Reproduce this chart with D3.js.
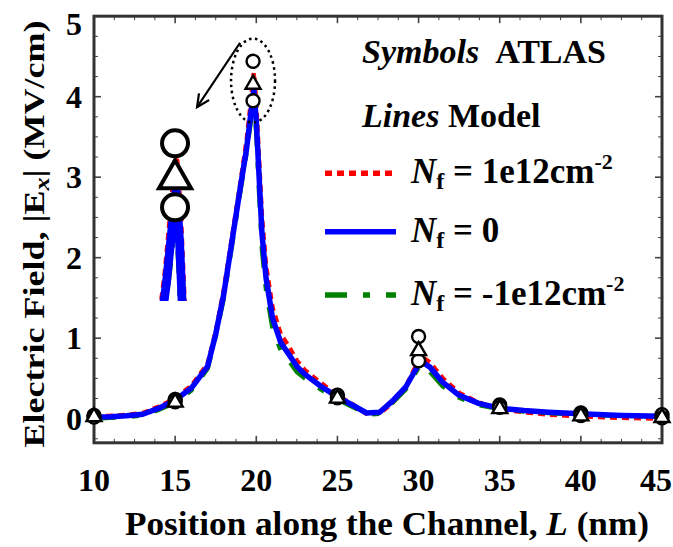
<!DOCTYPE html>
<html><head><meta charset="utf-8">
<script src="https://cdn.jsdelivr.net/npm/d3@7"></script>
<style>
body{margin:0;background:#fff}
svg{display:block}
text{font-family:"Liberation Serif","Times New Roman",serif;font-weight:bold;fill:#000}
</style>
</head><body>
<svg id="c" width="673" height="547"></svg>
<script>
// ---- data ----
const positions = [10,11,12,13,14,15,16,17,17.5,18,18.5,19,19.4,19.7,19.85,20.0,20.15,20.35,20.6,21,21.5,22,22.5,23,24,25,26,26.8,27.6,28.4,29.2,29.85,30.1,30.7,31.5,32.5,33.7,35,36.5,38,40,42.5,45];
const fieldPos  = [0.03,0.035,0.045,0.07,0.15,0.25,0.41,0.68,1.08,1.6,2.25,2.9,3.45,4.0,4.3,3.9,3.3,2.5,1.9,1.38,1.05,0.9,0.72,0.6,0.44,0.29,0.17,0.06,0.06,0.2,0.39,0.66,0.78,0.7,0.5,0.32,0.2,0.12,0.08,0.05,0.03,0.01,0.0];
const fieldZero = [0.02,0.025,0.035,0.055,0.13,0.23,0.38,0.65,1.05,1.55,2.2,2.85,3.35,3.85,4.08,3.7,3.1,2.3,1.75,1.25,0.95,0.8,0.65,0.55,0.40,0.27,0.16,0.07,0.08,0.22,0.39,0.62,0.72,0.64,0.45,0.29,0.19,0.13,0.1,0.08,0.06,0.04,0.03];
const fieldNeg  = [0.0,0.01,0.02,0.04,0.11,0.2,0.35,0.62,1.02,1.5,2.15,2.8,3.3,3.75,3.95,3.55,2.9,2.1,1.6,1.12,0.85,0.72,0.58,0.5,0.36,0.24,0.14,0.05,0.06,0.2,0.36,0.58,0.67,0.58,0.4,0.26,0.17,0.12,0.09,0.07,0.05,0.035,0.025];
const atlasX    = [10,15,19.8,25,30,35,40,45];
const atlasPos  = [0.04,0.24,4.44,0.29,1.02,0.17,0.07,0.05];
const atlasZero = [0.05,0.23,4.18,0.28,0.87,0.15,0.06,0.04];
const atlasNeg  = [0.02,0.21,3.95,0.26,0.72,0.14,0.04,0.01];
const xTicks = [10,15,20,25,30,35,40,45];
const yTicks = [0,1,2,3,4,5];
const legendValues = ["1e12cm", "0", "-1e12cm"];

// ---- setup ----
const svg = d3.select("#c");
const x = d3.scaleLinear().domain([10,45]).range([94,662]);
const y = d3.scaleLinear().domain([-0.3,5]).range([442.8,16.2]);

const styles = [
  {vals: fieldPos,  color:"#ff0000", width:4.5, dash:"7,5"},
  {vals: fieldNeg,  color:"#008000", width:4.5, dash:"22,16,7,16"},
  {vals: fieldZero, color:"#0000ff", width:5.5, dash:null}
];

// frame + ticks
const [x0,x1] = x.range(), [y0,y1] = y.range();
const g = svg.append("g");
const minorX = d3.range(10,45.01,1.25).filter(v=>!xTicks.includes(v));
const minorY = d3.range(-0.25,5.01,0.25).filter(v=>!yTicks.includes(+v.toFixed(2)));
function tick(x1_,y1_,x2_,y2_,w){g.append("line").attr("x1",x1_).attr("y1",y1_).attr("x2",x2_).attr("y2",y2_).attr("stroke","#444").attr("stroke-width",w);}
xTicks.forEach(t=>{tick(x(t),y0,x(t),y0-7,1.6);tick(x(t),y1,x(t),y1+7,1.6);});
minorX.forEach(t=>{tick(x(t),y0,x(t),y0-4,1);tick(x(t),y1,x(t),y1+4,1);});
yTicks.forEach(t=>{tick(x0,y(t),x0+7,y(t),1.6);tick(x1,y(t),x1-7,y(t),1.6);});
minorY.forEach(t=>{tick(x0,y(t),x0+4,y(t),1);tick(x1,y(t),x1-4,y(t),1);});
g.append("rect").attr("x",x0).attr("y",y1).attr("width",x1-x0).attr("height",y0-y1)
 .attr("fill","none").attr("stroke","#333").attr("stroke-width",3);

// tick labels
svg.append("g").selectAll("text").data(xTicks).join("text")
  .attr("x",d=>d===45?672:x(d)).attr("y",491).attr("text-anchor",d=>d===45?"end":"middle")
  .attr("font-size",32).text(d=>d);
svg.append("g").selectAll("text").data(yTicks).join("text")
  .attr("x",82).attr("y",d=>Math.max(y(d),24)+11).attr("text-anchor","end").attr("font-size",32).text(d=>d);

// axis titles
const xt = svg.append("text").attr("x",125).attr("y",535).attr("font-size",34)
  .attr("textLength",524).attr("lengthAdjust","spacingAndGlyphs");
xt.append("tspan").text("Position along the Channel, ");
xt.append("tspan").attr("font-style","italic").text("L");
xt.append("tspan").text(" (nm)");

const yt = svg.append("text").attr("transform","translate(44,234) rotate(-90)").attr("text-anchor","middle")
  .attr("font-size",30).attr("textLength",427).attr("lengthAdjust","spacingAndGlyphs");
yt.append("tspan").text("Electric Field, |E");
yt.append("tspan").attr("font-style","italic").attr("font-size",22).attr("dy",5).text("x");
yt.append("tspan").attr("dy",-5).text("| (MV/cm)");

// lines
const line = d3.line().x((d,i)=>x(positions[i])).y(d=>y(d));
styles.forEach(s=>{
  svg.append("path").attr("d",line(s.vals)).attr("fill","none").attr("stroke",s.color)
    .attr("stroke-width",s.width).attr("stroke-dasharray",s.dash).attr("stroke-linejoin","round");
});

// markers
function tri(sz){const h=sz*0.87;return `M0,${-h/2}L${sz/2},${h/2}L${-sz/2},${h/2}Z`;}
function circles(vals,r,w,sx,sy){
  svg.append("g").selectAll("circle").data(vals).join("circle")
    .attr("cx",(d,i)=>sx(atlasX[i])).attr("cy",d=>sy(d)).attr("r",r)
    .attr("fill","#fff").attr("stroke","#000").attr("stroke-width",w);
}
function triangles(vals,sz,w,sx,sy){
  svg.append("g").selectAll("path").data(vals).join("path")
    .attr("transform",(d,i)=>`translate(${sx(atlasX[i])},${sy(d)})`).attr("d",tri(sz))
    .attr("fill","#fff").attr("stroke","#000").attr("stroke-width",w).attr("stroke-linejoin","miter");
}
circles(atlasPos,6.5,2.4,x,y);
circles(atlasNeg,6.5,2.4,x,y);
triangles(atlasZero,15,2.4,x,y);

// ellipse around peak + arrow
svg.append("ellipse").attr("cx",x(19.8)).attr("cy",y(4.2)).attr("rx",22).attr("ry",42)
  .attr("fill","none").attr("stroke","#000").attr("stroke-width",2.5).attr("stroke-dasharray","2.5,3.5");
const ax1=x(19.0), ay1=y(4.67), ax2=x(16.35), ay2=y(3.87);
svg.append("line").attr("x1",ax1).attr("y1",ay1).attr("x2",ax2).attr("y2",ay2).attr("stroke","#000").attr("stroke-width",2.2);
const ang=Math.atan2(ay2-ay1,ax2-ax1), L=14, sp=0.45;
svg.append("path").attr("d",`M${ax2-L*Math.cos(ang-sp)},${ay2-L*Math.sin(ang-sp)}L${ax2},${ay2}L${ax2-L*Math.cos(ang+sp)},${ay2-L*Math.sin(ang+sp)}`)
  .attr("fill","none").attr("stroke","#000").attr("stroke-width",2.2);

// inset (magnified peak)
const ix = d3.scaleLinear().domain([19.2,20.1]).range([161.7,181.7]);
const iy = d3.scaleLinear().domain([3.95,4.44]).range([207.3,143.3]);
svg.append("clipPath").attr("id","ic").append("rect").attr("x",140).attr("y",120).attr("width",70).attr("height",181);
const iline = d3.line().x((d,i)=>ix(positions[i])).y(d=>iy(d));
const ig = svg.append("g").attr("clip-path","url(#ic)");
styles.forEach(s=>{
  ig.append("path").attr("d",iline(s.vals)).attr("fill","none").attr("stroke",s.color)
    .attr("stroke-width",s.width*1.6).attr("stroke-dasharray",s.dash).attr("stroke-linejoin","round");
});
svg.append("g").selectAll("circle").data([atlasPos[2],atlasNeg[2]]).join("circle")
  .attr("cx",ix(atlasX[2])).attr("cy",d=>iy(d)).attr("r",13)
  .attr("fill","#fff").attr("stroke","#000").attr("stroke-width",4);
svg.append("path").attr("transform",`translate(${ix(atlasX[2])},${iy(atlasZero[2])-3})`).attr("d",tri(32))
  .attr("fill","#fff").attr("stroke","#000").attr("stroke-width",4);

// legend
const lg = svg.append("g");
const t1 = lg.append("text").attr("x",362).attr("y",63).attr("font-size",34);
t1.append("tspan").attr("font-style","italic").text("Symbols");
t1.append("tspan").attr("dx",16).text("ATLAS");
const t2 = lg.append("text").attr("x",362).attr("y",127).attr("font-size",34);
t2.append("tspan").attr("font-style","italic").text("Lines");
t2.append("tspan").text(" Model");
const legY = [173.3,231.7,295];
const legStyles = [styles[0],styles[2],styles[1]];
legendValues.forEach((v,i)=>{
  const s = legStyles[i];
  lg.append("line").attr("x1",325).attr("x2",396).attr("y1",legY[i]).attr("y2",legY[i])
    .attr("stroke",s.color).attr("stroke-width",5.5).attr("stroke-dasharray",s.dash);
  const t = lg.append("text").attr("x",411).attr("y",legY[i]+10).attr("font-size",35);
  t.append("tspan").attr("font-style","italic").text("N");
  t.append("tspan").attr("font-size",24).attr("dy",6).text("f");
  t.append("tspan").attr("dy",-6).text(" = " + v);
  if (i!==1) t.append("tspan").attr("font-size",22).attr("dy",-14).text("-2");
});
</script>
</body></html>
